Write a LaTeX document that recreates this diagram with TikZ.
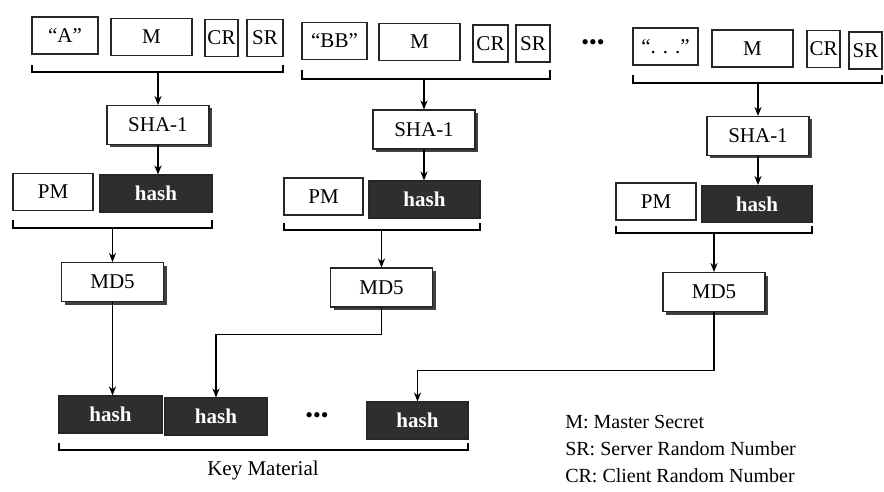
\documentclass[tikz,border=0pt]{standalone}
\usepackage{fontspec}
\setmainfont{Liberation Serif}
\usetikzlibrary{arrows.meta,shadows}

\tikzset{
  cell/.style={draw=black!85,fill=white,inner sep=0pt,minimum height=18.5pt},
  dark/.style={cell,fill=black!82,text=white,font=\fontsize{10.5}{12}\bfseries},
  func/.style={cell,minimum width=51pt,minimum height=19.5pt,
    general shadow={shadow xshift=1.5pt,shadow yshift=-1.5pt,fill=black!75}},
  arr/.style={-{Stealth[length=4.5pt,width=3.6pt]}},
  dots/.style={inner sep=0pt,font=\fontsize{11}{12}\selectfont},
}

\begin{document}
\begin{tikzpicture}[x=0.5pt,y=-0.5pt,font=\fontsize{10.5}{12}\selectfont,line width=0.6pt]
\useasboundingbox (0,0) rectangle (884,492);

% first column
\node[cell,minimum width=33pt] (lab1) at (65,35.5) {“A”};
\node[cell,minimum width=40.5pt] (m1) at (151.5,37) {M};
\node[cell,minimum width=16.5pt] (cr1) at (221.5,38) {CR};
\node[cell,minimum width=18pt] (sr1) at (265,38) {SR};
\draw (32,65) |- (283,72) -- (283,65);
\node[func] (sha1) at (158,125) {SHA-1};
\draw[arr] (sha1 |- 0,72) -- (sha1);
\node[cell,minimum width=40pt] (pm1) at (53,192) {PM};
\node[dark,minimum width=56pt] (hsh1) at (156,193.5) {hash};
\draw[arr] (sha1) -- (sha1 |- hsh1.north);
\draw (13,220) |- (212,228) -- (212,220);
\node[func] (md1) at (112.5,282) {MD5};
\draw[arr] (md1 |- 0,228) -- (md1);

% second column
\node[cell,minimum width=32.5pt] (lab2) at (334.5,41) {“BB”};
\node[cell,minimum width=40.5pt] (m2) at (419.5,42) {M};
\node[cell,minimum width=17.5pt] (cr2) at (490.5,43.5) {CR};
\node[cell,minimum width=17pt] (sr2) at (533,43.5) {SR};
\draw (302,70) |- (550,79) -- (550,70);
\node[func] (sha2) at (424,129.5) {SHA-1};
\draw[arr] (sha2 |- 0,79) -- (sha2);
\node[cell,minimum width=39.5pt] (pm2) at (323.5,196.5) {PM};
\node[dark,minimum width=55.5pt] (hsh2) at (424.5,199.5) {hash};
\draw[arr] (sha2) -- (sha2 |- hsh2.north);
\draw (284,223) |- (480,230) -- (480,223);
\node[func] (md2) at (381.5,287.5) {MD5};
\draw[arr] (md2 |- 0,230) -- (md2);

\node[dots] (dtop) at (593,45) {•••};

% last column
\node[cell,minimum width=32.5pt] (lab3) at (665.5,46.5) {“. . .”};
\node[cell,minimum width=40.5pt] (m3) at (752.5,48.5) {M};
\node[cell,minimum width=16.5pt] (cr3) at (823.5,49) {CR};
\node[cell,minimum width=16.5pt] (sr3) at (865.5,50.5) {SR};
\draw (633,75) |- (882,83) -- (882,75);
\node[func] (sha3) at (758,136) {SHA-1};
\draw[arr] (sha3 |- 0,83) -- (sha3);
\node[cell,minimum width=40pt] (pm3) at (656,201.5) {PM};
\node[dark,minimum width=55pt] (hsh3) at (757,204) {hash};
\draw[arr] (sha3) -- (sha3 |- hsh3.north);
\draw (616,226) |- (812,233) -- (812,226);
\node[func] (md3) at (714,292) {MD5};
\draw[arr] (md3 |- 0,233) -- (md3);

% key material
\node[dark,minimum width=51.5pt] (key1) at (110.5,414.5) {hash};
\node[dark,minimum width=51pt] (key2) at (216,416.5) {hash};
\node[dots] (dbot) at (317,418) {•••};
\node[dark,minimum width=50.5pt] (key3) at (417.5,420.5) {hash};
\draw (59,443) |- (468,450) -- (468,443);
\node (keylbl) at (263,470) {Key Material};

\draw[arr] (md1) -- (md1 |- key1.north);
\draw[arr] (md2.south) -- ++(0,27) -| (key2.north);
\draw[arr] (md3.south) -- ++(0,58) -| (key3.north);

\node[anchor=west,align=left,font=\fontsize{10}{13.5}\selectfont] (legend) at (558,449)
  {M: Master Secret\\SR: Server Random Number\\CR: Client Random Number};
\end{tikzpicture}
\end{document}
